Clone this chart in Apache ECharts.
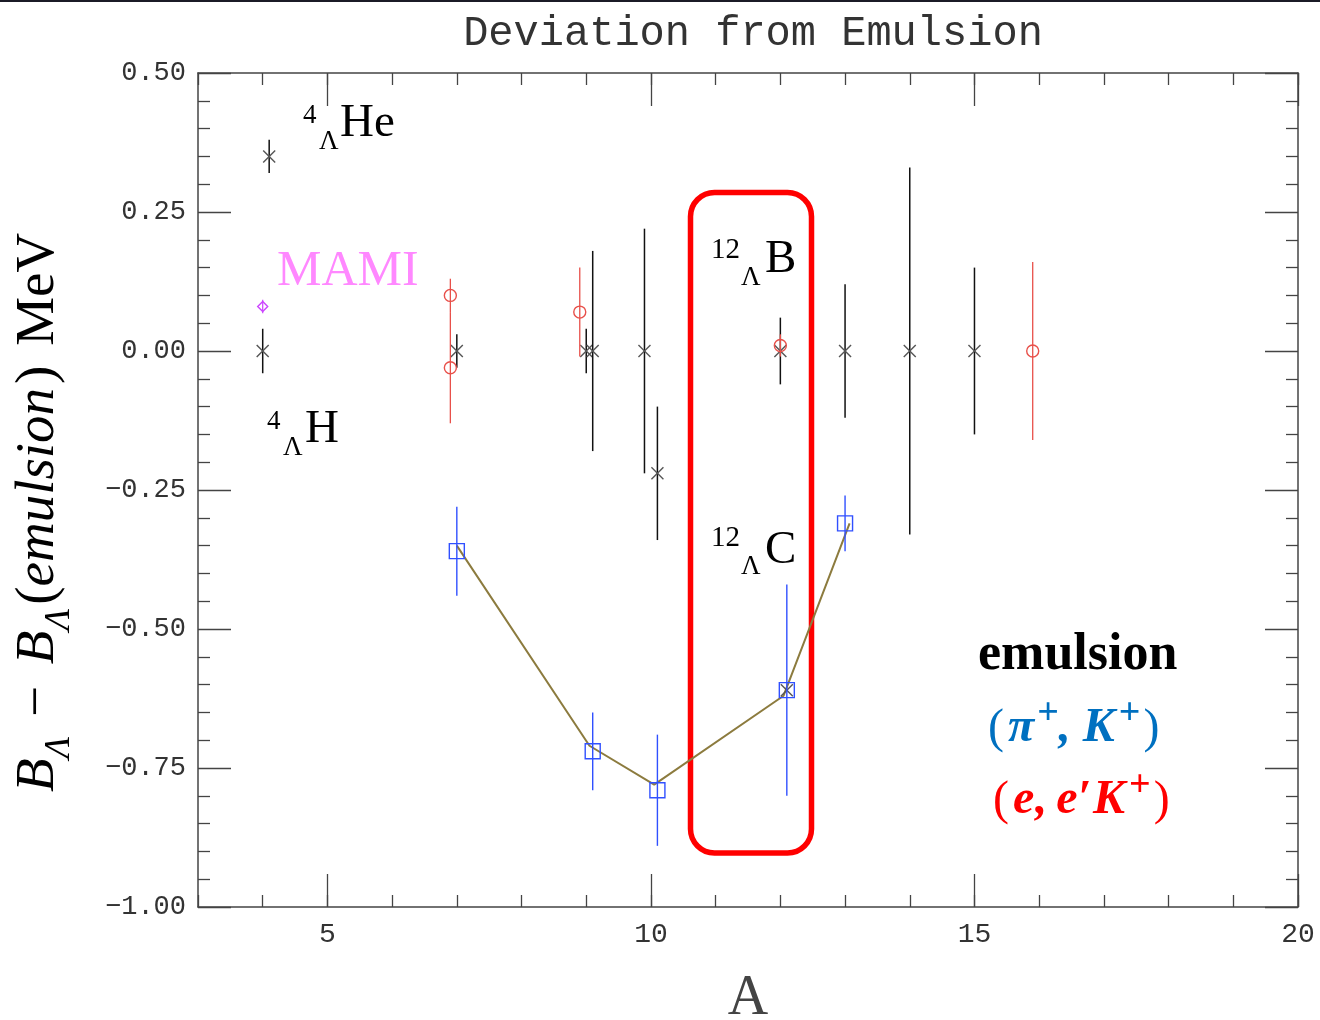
<!DOCTYPE html>
<html><head><meta charset="utf-8">
<script src="https://cdn.jsdelivr.net/npm/echarts@6/dist/echarts.min.js"></script>
<style>html,body{margin:0;padding:0;background:#fff}#c{width:1320px;height:1020px}</style>
</head><body><div id="c"></div>
<script>
// ---- data ----
const xMajor = [5, 10, 15, 20];
const yTicks = [-1.0, -0.75, -0.5, -0.25, 0.0, 0.25, 0.5];

// emulsion (black crosses)
const emuA   = [4.0, 4.1, 7.0, 9.0, 9.1, 9.9, 10.1, 12.0, 12.1, 13.0, 14.0, 15.0];
const emuVal = [0.00, 0.35, 0.00, 0.00, 0.00, 0.00, -0.22, 0.00, -0.61, 0.00, 0.00, 0.00];
const emuErr = [0.04, 0.03, 0.03, 0.04, 0.18, 0.22, 0.12, 0.06, 0.00, 0.12, 0.33, 0.15];

// (e,e'K+) red circles
const eeA   = [6.9, 6.9, 8.9, 12.0, 15.9];
const eeVal = [0.10, -0.03, 0.07, 0.01, 0.00];
const eeErr = [0.03, 0.10, 0.08, 0.02, 0.16];

// (pi+,K+) blue squares
const piA   = [7.0, 9.1, 10.1, 12.1, 13.0];
const piVal = [-0.36, -0.72, -0.79, -0.61, -0.31];
const piErr = [0.08, 0.07, 0.10, 0.19, 0.05];

// MAMI magenta diamond
const mamiA   = [4.0];
const mamiVal = [0.08];
const mamiErr = [0.012];

// olive connecting line
const fitA   = [7.0, 9.05, 10.05, 12.05, 13.07];
const fitVal = [-0.35, -0.71, -0.78, -0.62, -0.31];

// ---- helpers ----
const SERIF = "'Liberation Serif', 'Times New Roman', serif";
const MONO = "'Liberation Mono', 'DejaVu Sans Mono', monospace";
const cv = document.createElement('canvas').getContext('2d');
function measure(t, p) {
  cv.font = `${p.style || 'normal'} ${p.weight || 'normal'} ${p.size}px ${p.family || SERIF}`;
  return cv.measureText(t).width;
}
function txt(t, x, base, p, color) {
  return {
    type: 'text', x: x, y: base - 0.335 * p.size + (p.dy || 0),
    style: {
      text: t, fill: color, fontFamily: p.family || SERIF, fontSize: p.size,
      fontStyle: p.style || 'normal', fontWeight: p.weight || 'normal',
      align: 'left', verticalAlign: 'middle'
    }
  };
}
function run(pieces, x0, base, color) {
  let x = x0; const out = [];
  pieces.forEach(p => {
    x += (p.pre || 0);
    out.push(txt(p.t, x, base, p, p.color || color));
    x += measure(p.t, p) + (p.post || 0);
  });
  return out;
}

function seriesData(a, v, e) { return a.map((x, i) => [x, v[i], e[i]]); }

function makeRender(kind, barColor, markColor, lw) {
  return function (params, api) {
    const x = api.value(0), y = api.value(1), e = api.value(2);
    const p = api.coord([x, y]);
    const ch = [];
    if (e > 0) {
      const t = api.coord([x, y + e]), b = api.coord([x, y - e]);
      ch.push({ type: 'line', shape: { x1: p[0], y1: t[1], x2: p[0], y2: b[1] }, style: { stroke: barColor, lineWidth: lw } });
    }
    const cx = p[0], cy = p[1];
    const ms = { fill: 'none', stroke: markColor, lineWidth: 1.4 };
    if (kind === 'cross') {
      const s = 6;
      ch.push({ type: 'line', shape: { x1: cx - s, y1: cy - s, x2: cx + s, y2: cy + s }, style: ms });
      ch.push({ type: 'line', shape: { x1: cx - s, y1: cy + s, x2: cx + s, y2: cy - s }, style: ms });
    } else if (kind === 'circle') {
      ch.push({ type: 'circle', shape: { cx: cx, cy: cy, r: 6 }, style: ms });
    } else if (kind === 'square') {
      ch.push({ type: 'rect', shape: { x: cx - 7.5, y: cy - 7.5, width: 15, height: 15 }, style: ms });
    } else if (kind === 'diamond') {
      ch.push({ type: 'polygon', shape: { points: [[cx, cy - 5], [cx + 5, cy], [cx, cy + 5], [cx - 5, cy]] }, style: ms });
    }
    return { type: 'group', children: ch };
  };
}

const axisColor = '#444';
const tickStyle = { color: axisColor, width: 1.3 };
const xBase = { type: 'value', min: 3, max: 20, splitLine: { show: false } };

const yLabelFmt = v => (v < 0 ? '\u2212' : '') + Math.abs(v).toFixed(2);

// ---- annotations ----
const g = [];
// top border line
g.push({ type: 'rect', shape: { x: 0, y: 0, width: 1320, height: 2 }, style: { fill: '#1b1b26' } });

// isotope labels
const supP = { size: 27 }, bigP = { size: 47 };
g.push(txt('4', 303, 125, supP, '#000'), txt('Λ', 319, 151, supP, '#000'), txt('He', 340, 139, bigP, '#000'));
g.push(txt('4', 267, 431, supP, '#000'), txt('Λ', 283, 457, supP, '#000'), txt('H', 305, 445, bigP, '#000'));
const sup12 = { size: 29 };
g.push(txt('12', 711, 260, sup12, '#000'), txt('Λ', 741, 287, supP, '#000'), txt('B', 765, 275, bigP, '#000'));
g.push(txt('12', 711, 548, sup12, '#000'), txt('Λ', 741, 576, supP, '#000'), txt('C', 765, 566, bigP, '#000'));
g.push(txt('MAMI', 277, 289, { size: 50 }, '#ff88ff'));

// red rounded box
g.push({ type: 'rect', shape: { x: 690.5, y: 192.5, width: 121, height: 660.5, r: 24 }, style: { fill: 'none', stroke: '#ff0000', lineWidth: 5.5 } });

// legend-ish text
g.push(txt('emulsion', 978, 673, { size: 52, weight: 'bold' }, '#000'));
const bi = { size: 48, style: 'italic', weight: 'bold' };
const nr = { size: 48 };
const sp = { size: 38, weight: 'bold', dy: -18 };
run([
  Object.assign({ t: '(' }, nr, { post: 4 }),
  Object.assign({ t: 'π' }, bi, { post: 3 }),
  Object.assign({ t: '+' }, sp),
  Object.assign({ t: ',' }, bi, { post: 12 }),
  Object.assign({ t: 'K' }, bi, { post: 4 }),
  Object.assign({ t: '+' }, sp, { post: 3 }),
  Object.assign({ t: ')' }, nr)
], 988, 745, '#0070c0').forEach(e => g.push(e));
run([
  Object.assign({ t: '(' }, nr, { post: 4 }),
  Object.assign({ t: 'e' }, bi, { post: 1 }),
  Object.assign({ t: ',' }, bi, { post: 9 }),
  Object.assign({ t: 'e' }, bi, { post: 1 }),
  Object.assign({ t: '′' }, { size: 48, weight: 'bold' }, { post: 1 }),
  Object.assign({ t: 'K' }, bi, { post: 4 }),
  Object.assign({ t: '+' }, sp, { post: 3 }),
  Object.assign({ t: ')' }, nr)
], 993, 817, '#ff0000').forEach(e => g.push(e));

// y axis title (rotated)
const yi = { size: 55, style: 'italic' }, yn = { size: 55 }, ys = { size: 36, style: 'italic', dy: 15 };
g.push({
  type: 'group', x: 57, y: 792, rotation: Math.PI / 2,
  children: run([
    Object.assign({ t: 'B' }, yi),
    Object.assign({ t: 'Λ' }, ys, { post: 6 }),
    Object.assign({ t: ' − ' }, yn, { post: 8 }),
    Object.assign({ t: 'B' }, yi),
    Object.assign({ t: 'Λ' }, ys, { post: 4 }),
    Object.assign({ t: '(' }, yn),
    Object.assign({ t: 'emulsion' }, yi, { post: 4 }),
    Object.assign({ t: ')' }, yn, { post: 6 }),
    Object.assign({ t: ' MeV' }, yn)
  ], 0, 0, '#000')
});

const option = {
  animation: false,
  backgroundColor: '#fff',
  title: {
    text: 'Deviation from Emulsion', left: 748, top: 8, textAlign: 'center',
    textStyle: { fontFamily: MONO, fontSize: 42, fontWeight: 'normal', color: '#333' }
  },
  grid: { left: 198, right: 22, top: 73, bottom: 113, outerBoundsMode: 'none', containLabel: false },
  xAxis: [
    Object.assign({}, xBase, {
      position: 'bottom', interval: 1,
      axisLine: { show: true, onZero: false, lineStyle: { color: axisColor, width: 1.5 } },
      axisTick: { inside: true, length: 12, lineStyle: tickStyle },
      axisLabel: { show: false }
    }),
    Object.assign({}, xBase, {
      position: 'bottom',
      axisLine: { show: false, onZero: false },
      axisTick: { inside: true, length: 33, customValues: xMajor, lineStyle: tickStyle },
      axisLabel: { customValues: xMajor, margin: 14, fontFamily: MONO, fontSize: 28, color: '#333' },
      name: 'A', nameLocation: 'middle', nameGap: 64,
      nameTextStyle: { fontFamily: SERIF, fontSize: 56, color: '#444' }
    }),
    Object.assign({}, xBase, {
      position: 'top', interval: 1,
      axisLine: { show: true, onZero: false, lineStyle: { color: axisColor, width: 1.5 } },
      axisTick: { inside: true, length: 12, lineStyle: tickStyle },
      axisLabel: { show: false }
    }),
    Object.assign({}, xBase, {
      position: 'top',
      axisLine: { show: false, onZero: false },
      axisTick: { inside: true, length: 33, customValues: xMajor, lineStyle: tickStyle },
      axisLabel: { show: false }
    })
  ],
  yAxis: [
    {
      type: 'value', min: -1, max: 0.5, interval: 0.25, position: 'left',
      axisLine: { show: true, onZero: false, lineStyle: { color: axisColor, width: 1.5 } },
      axisTick: { inside: true, length: 33, lineStyle: tickStyle },
      minorTick: { show: true, splitNumber: 5, length: 12, lineStyle: tickStyle },
      axisLabel: { formatter: yLabelFmt, margin: 12, fontFamily: MONO, fontSize: 27, color: '#333' },
      splitLine: { show: false }
    },
    {
      type: 'value', min: -1, max: 0.5, interval: 0.25, position: 'right',
      axisLine: { show: true, onZero: false, lineStyle: { color: axisColor, width: 1.5 } },
      axisTick: { inside: true, length: 33, lineStyle: tickStyle },
      minorTick: { show: true, splitNumber: 5, length: 12, lineStyle: tickStyle },
      axisLabel: { show: false },
      splitLine: { show: false }
    }
  ],
  series: [
    {
      type: 'line', name: 'fit', data: fitA.map((a, i) => [a, fitVal[i]]),
      symbol: 'none', lineStyle: { color: '#8c7b3e', width: 2 }, z: 2
    },
    {
      type: 'custom', name: 'emulsion', data: seriesData(emuA, emuVal, emuErr),
      encode: { x: 0, y: 1 }, renderItem: makeRender('cross', '#111', '#555', 1.5), z: 3
    },
    {
      type: 'custom', name: 'ee', data: seriesData(eeA, eeVal, eeErr),
      encode: { x: 0, y: 1 }, renderItem: makeRender('circle', '#e8504a', '#e8504a', 1.3), z: 3
    },
    {
      type: 'custom', name: 'pi', data: seriesData(piA, piVal, piErr),
      encode: { x: 0, y: 1 }, renderItem: makeRender('square', '#3050ff', '#3050ff', 1.4), z: 3
    },
    {
      type: 'custom', name: 'mami', data: seriesData(mamiA, mamiVal, mamiErr),
      encode: { x: 0, y: 1 }, renderItem: makeRender('diamond', '#cc44ff', '#cc44ff', 1.2), z: 3
    }
  ],
  graphic: { elements: g }
};
const chart = echarts.init(document.getElementById('c'), null, { renderer: 'canvas' });
chart.setOption(option);
</script>
</body></html>
